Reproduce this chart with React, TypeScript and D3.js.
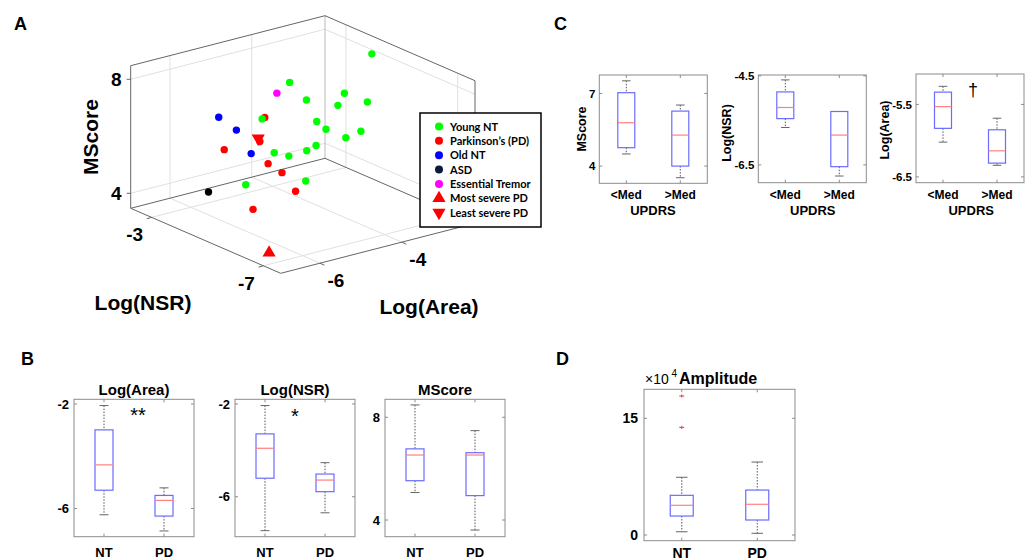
import React from 'react';
import * as d3 from 'd3';

const FONT = '"Liberation Sans", Arial, sans-serif';

// panel A: [Log(Area), Log(NSR), MScore] per subject
const youngNT = [
  [-2.26, -4.0, 7.9], [-4.27, -4.0, 7.64], [-2.59, -3.5, 6.43], [-4.2, -4.5, 7.21],
  [-3.09, -4.0, 6.4], [-2.71, -4.5, 6.59], [-4.6, -3.5, 6.27], [-4.29, -5.0, 6.7],
  [-3.38, -4.0, 5.67], [-3.21, -5.0, 5.96], [-3.92, -5.5, 6.21], [-5.33, -5.0, 5.99],
  [-4.63, -4.5, 5.4], [-3.51, -3.5, 4.75], [-2.94, -3.0, 4.51], [-4.66, -3.0, 3.77],
  [-4.9, -5.5, 5.05],
];
const parkinsons = [
  [-5.56, -5.0, 7.31], [-6.21, -4.5, 6.21], [-5.82, -5.5, 6.0], [-5.14, -5.0, 5.22],
  [-5.49, -6.0, 5.12], [-6.53, -6.0, 4.87], [-5.68, -5.0, 6.51],
];
const oldNT = [[-5.32, -3.0, 6.38], [-5.23, -3.5, 6.11], [-5.21, -4.0, 5.49]];
const asd = [[-5.57, -3.0, 3.85]];
const essentialTremor = [[-4.24, -3.5, 7.04]];
const mostSevere = [[-6.82, -7.0, 3.88]];
const leastSevere = [[-5.72, -5.0, 6.64]];

const areaTicks3d = [-6, -4];
const nsrTicks3d = [-3, -7];
const mscoreTicks3d = [4, 8];

// box stats: [lower whisker, Q1, median, Q3, upper whisker]
const groupsB = ['NT', 'PD'];
const areaNT = [-6.24, -5.3, -4.33, -2.99, -2.06];
const areaPD = [-6.86, -6.29, -5.69, -5.5, -5.21];
const nsrNT = [-7.46, -5.2, -3.91, -3.29, -2.07];
const nsrPD = [-6.69, -5.78, -5.28, -5.02, -4.53];
const msNT = [5.07, 5.53, 6.53, 6.77, 8.48];
const msPD = [3.61, 4.95, 6.53, 6.62, 7.48];

const groupsC = ['<Med', '>Med'];
const msLow = [4.5, 4.76, 5.79, 7.03, 7.52];
const msHigh = [3.52, 4.0, 5.28, 6.27, 6.52];
const nsrLow = [-5.66, -5.46, -5.21, -4.86, -4.59];
const nsrHigh = [-6.75, -6.54, -5.83, -5.3, -5.3];
const areaLow = [-6.02, -5.83, -5.53, -5.33, -5.25];
const areaHigh = [-6.34, -6.31, -6.14, -5.85, -5.69];

const ampNT = [0.42, 2.44, 3.82, 5.1, 7.42];
const ampPD = [0.22, 1.93, 3.95, 5.78, 9.38];
const ampNTOutliers = [17.87, 13.84];

// 3D projection
const aDom: [number, number] = [-6.96, -2.21];
const nDom: [number, number] = [-2.25, -7.62];
const zDom: [number, number] = [3.474, 8.477];
const aS = d3.scaleLinear().domain(aDom).range([0, 1]);
const nS = d3.scaleLinear().domain(nDom).range([0, 1]);
const zS = d3.scaleLinear().domain(zDom).range([0, 142.6]);
const ORIGIN = [130.7, 208.3];
const AV = [194.3, -50];
const NV = [150, 65];
const proj = (a: number, n: number, z: number): [number, number] => {
  const ta = aS(a), tn = nS(n);
  return [ORIGIN[0] + ta * AV[0] + tn * NV[0], ORIGIN[1] + ta * AV[1] + tn * NV[1] - zS(z)];
};

const seg = (p: [number, number], q: [number, number], key: string, stroke: string, w = 1) => (
  <line key={key} x1={p[0]} y1={p[1]} x2={q[0]} y2={q[1]} stroke={stroke} strokeWidth={w} />
);

function Panel3D() {
  const [a0, a1] = aDom, [n0, n1] = nDom, [z0, z1] = zDom;
  const grid = '#e0e0e0';
  const edge = '#666';
  const lines: any[] = [];
  mscoreTicks3d.forEach((z, i) => {
    lines.push(seg(proj(a0, n0, z), proj(a1, n0, z), 'gzl' + i, grid));
    lines.push(seg(proj(a1, n0, z), proj(a1, n1, z), 'gzr' + i, grid));
  });
  areaTicks3d.forEach((a, i) => {
    lines.push(seg(proj(a, n0, z0), proj(a, n0, z1), 'gaw' + i, grid));
    lines.push(seg(proj(a, n0, z0), proj(a, n1, z0), 'gaf' + i, grid));
  });
  nsrTicks3d.forEach((n, i) => {
    lines.push(seg(proj(a1, n, z0), proj(a1, n, z1), 'gnw' + i, grid));
    lines.push(seg(proj(a0, n, z0), proj(a1, n, z0), 'gnf' + i, grid));
  });
  const edges = [
    [proj(a0, n0, z0), proj(a0, n0, z1)],
    [proj(a0, n0, z1), proj(a1, n0, z1)],
    [proj(a1, n0, z1), proj(a1, n1, z1)],
    [proj(a1, n1, z1), proj(a1, n1, z0)],
    [proj(a0, n0, z0), proj(a1, n0, z0)],
    [proj(a1, n0, z0), proj(a1, n1, z0)],
    [proj(a0, n0, z0), proj(a0, n1, z0)],
    [proj(a0, n1, z0), proj(a1, n1, z0)],
  ];
  const backV = seg(proj(a1, n0, z0), proj(a1, n0, z1), 'bv', '#bbb');
  const tri = d3.symbol().type(d3.symbolTriangle).size(75)() as string;
  const dot = (pts: number[][], color: string, k: string) =>
    pts.map((p, i) => {
      const [x, y] = proj(p[0], p[1], p[2]);
      return <circle key={k + i} cx={x} cy={y} r={3.7} fill={color} />;
    });
  const legendItems = [
    { label: 'Young NT', color: '#00ff00', shape: 'c' },
    { label: 'Parkinson’s (PD)', color: '#ff0000', shape: 'c' },
    { label: 'Old NT', color: '#0000ff', shape: 'c' },
    { label: 'ASD', color: '#0b1a3d', shape: 'c' },
    { label: 'Essential Tremor', color: '#ff00ff', shape: 'c' },
    { label: 'Most severe PD', color: '#ff0000', shape: 'u' },
    { label: 'Least severe PD', color: '#ff0000', shape: 'd' },
  ];
  return (
    <g>
      {lines}
      {backV}
      {edges.map((e, i) => seg(e[0] as [number, number], e[1] as [number, number], 'e' + i, edge))}
      {mscoreTicks3d.map((z) => {
        const [x, y] = proj(a0, n0, z);
        return (
          <g key={'mt' + z}>
            <line x1={x - 4} x2={x} y1={y} y2={y} stroke={edge} />
            <text x={x - 9} y={y + 7} textAnchor="end" fontSize={19} fontWeight="bold" fontFamily={FONT}>{z}</text>
          </g>
        );
      })}
      {nsrTicks3d.map((n) => {
        const [x, y] = proj(a0, n, z0);
        return (
          <g key={'nt' + n}>
            <line x1={x} y1={y} x2={x - 4.8} y2={y + 1.3} stroke={edge} />
            <text x={x - 17} y={y + 24} textAnchor="middle" fontSize={19} fontWeight="bold" fontFamily={FONT}>{n}</text>
          </g>
        );
      })}
      {areaTicks3d.map((a) => {
        const [x, y] = proj(a, n1, z0);
        return (
          <g key={'at' + a}>
            <line x1={x} y1={y} x2={x + 4.5} y2={y + 2} stroke={edge} />
            <text x={x + 16} y={y + 24} textAnchor="middle" fontSize={19} fontWeight="bold" fontFamily={FONT}>{a}</text>
          </g>
        );
      })}
      {dot(parkinsons, '#ff0000', 'pd')}
      {dot(oldNT, '#0000ff', 'on')}
      {dot(asd, '#000000', 'as')}
      {dot(essentialTremor, '#ff00ff', 'et')}
      {dot(youngNT, '#00ff00', 'yn')}
      {mostSevere.map((p, i) => {
        const [x, y] = proj(p[0], p[1], p[2]);
        return <path key={'ms' + i} d={tri} transform={`translate(${x},${y})`} fill="#ff0000" />;
      })}
      {leastSevere.map((p, i) => {
        const [x, y] = proj(p[0], p[1], p[2]);
        return <path key={'ls' + i} d={tri} transform={`translate(${x},${y}) rotate(180)`} fill="#ff0000" />;
      })}
      <text transform="translate(98,137) rotate(-90)" textAnchor="middle" fontSize={21} fontWeight="bold" fontFamily={FONT}>MScore</text>
      <text x={143} y={310} textAnchor="middle" fontSize={21} fontWeight="bold" fontFamily={FONT}>Log(NSR)</text>
      <text x={429} y={314} textAnchor="middle" fontSize={21} fontWeight="bold" fontFamily={FONT}>Log(Area)</text>
      <rect x={420} y={113} width={121} height={114} fill="#fff" stroke="#000" strokeWidth={1.5} />
      {legendItems.map((it, i) => {
        const cy = 126.5 + i * 14.35;
        return (
          <g key={'lg' + i}>
            {it.shape === 'c' ? (
              <circle cx={439} cy={cy} r={4} fill={it.color} />
            ) : (
              <path d={tri} transform={`translate(439,${cy}) ${it.shape === 'd' ? 'rotate(180)' : ''}`} fill={it.color} />
            )}
            <text x={450} y={cy + 4} fontSize={11} fontWeight="bold" fontFamily="Lato, sans-serif">{it.label}</text>
          </g>
        );
      })}
    </g>
  );
}

interface BoxProps {
  x0: number; y0: number; w: number; h: number;
  domain: [number, number]; ticks: number[];
  groups: string[]; stats: number[][]; outliers?: number[][];
  boxW: number; tickFs: number; labelFs: number; tickGap: number; labelDy: number;
  title?: string; titleY?: number;
}

function BoxPanel(p: BoxProps) {
  const y = d3.scaleLinear().domain(p.domain).range([p.y0 + p.h, p.y0]);
  const x = d3.scaleLinear().domain([0.5, 2.5]).range([p.x0, p.x0 + p.w]);
  const axis = '#8c8c8c';
  return (
    <g>
      <rect x={p.x0} y={p.y0} width={p.w} height={p.h} fill="none" stroke={axis} />
      {p.ticks.map((t) => (
        <g key={'t' + t}>
          <line x1={p.x0} x2={p.x0 + 3} y1={y(t)} y2={y(t)} stroke={axis} />
          <line x1={p.x0 + p.w - 3} x2={p.x0 + p.w} y1={y(t)} y2={y(t)} stroke={axis} />
          <text x={p.x0 - p.tickGap} y={y(t)} dy="0.36em" textAnchor="end" fontSize={p.tickFs} fontWeight="bold" fontFamily={FONT}>{t}</text>
        </g>
      ))}
      {p.groups.map((g, i) => {
        const cx = x(i + 1);
        const [lo, q1, md, q3, hi] = p.stats[i];
        const bw = p.boxW;
        return (
          <g key={g}>
            <line x1={cx} x2={cx} y1={p.y0} y2={p.y0 + 3} stroke={axis} />
            <line x1={cx} x2={cx} y1={p.y0 + p.h - 3} y2={p.y0 + p.h} stroke={axis} />
            <line x1={cx} x2={cx} y1={y(hi)} y2={y(q3)} stroke="#555" strokeDasharray="1.5,1.5" />
            <line x1={cx} x2={cx} y1={y(q1)} y2={y(lo)} stroke="#555" strokeDasharray="1.5,1.5" />
            <line x1={cx - bw / 4} x2={cx + bw / 4} y1={y(hi)} y2={y(hi)} stroke="#666" />
            <line x1={cx - bw / 4} x2={cx + bw / 4} y1={y(lo)} y2={y(lo)} stroke="#666" />
            <rect x={cx - bw / 2} y={y(q3)} width={bw} height={y(q1) - y(q3)} fill="#fff" stroke="#6b6bff" strokeWidth={1.2} />
            <line x1={cx - bw / 2} x2={cx + bw / 2} y1={y(md)} y2={y(md)} stroke="#ff8080" strokeWidth={1.2} />
            {(p.outliers?.[i] ?? []).map((o, j) => (
              <g key={'o' + j} stroke="#ff3030" strokeWidth={1}>
                <line x1={cx - 2.5} x2={cx + 2.5} y1={y(o)} y2={y(o)} />
                <line x1={cx} x2={cx} y1={y(o) - 1.5} y2={y(o) + 1.5} />
              </g>
            ))}
            <text x={cx} y={p.y0 + p.h + p.labelDy} textAnchor="middle" fontSize={p.labelFs} fontWeight="bold" fontFamily={FONT}>{g}</text>
          </g>
        );
      })}
      {p.title && (
        <text x={p.x0 + p.w / 2} y={p.titleY} textAnchor="middle" fontSize={15} fontWeight="bold" fontFamily={FONT}>{p.title}</text>
      )}
    </g>
  );
}

export default function App() {
  const letter = (t: string, x: number, y: number) => (
    <text x={x} y={y} fontSize={18} fontWeight="bold" fontFamily={FONT}>{t}</text>
  );
  const cCommon = { w: 108, boxW: 17, tickFs: 11.5, labelFs: 12, tickGap: 4, labelDy: 16, groups: groupsC };
  const bCommon = { y0: 399.3, w: 120, h: 137.4, boxW: 18, tickFs: 13, labelFs: 13, tickGap: 5, labelDy: 20, groups: groupsB, titleY: 395 };
  return (
    <svg width={1030} height={560} style={{ position: 'absolute', left: 0, top: 0, background: '#fff' }}>
      <rect width={1030} height={560} fill="#fff" />
      {letter('A', 14, 30)}
      {letter('B', 21, 365)}
      {letter('C', 554, 30)}
      {letter('D', 556, 365)}
      <Panel3D />

      {/* Panel C */}
      <BoxPanel {...cCommon} x0={599.3} y0={75} h={108.3} domain={[3.29, 7.76]} ticks={[4, 7]} stats={[msLow, msHigh]} />
      <BoxPanel {...cCommon} x0={758.3} y0={75} h={107.7} domain={[-6.9, -4.48]} ticks={[-6.5, -4.5]} stats={[nsrLow, nsrHigh]} />
      <BoxPanel {...cCommon} x0={916} y0={74} h={108.7} domain={[-6.58, -5.08]} ticks={[-6.5, -5.5]} stats={[areaLow, areaHigh]} />
      <text transform="translate(586,129) rotate(-90)" textAnchor="middle" fontSize={12.5} fontWeight="bold" fontFamily={FONT}>MScore</text>
      <text transform="translate(731,133) rotate(-90)" textAnchor="middle" fontSize={12.5} fontWeight="bold" fontFamily={FONT}>Log(NSR)</text>
      <text transform="translate(889,130) rotate(-90)" textAnchor="middle" fontSize={12.5} fontWeight="bold" fontFamily={FONT}>Log(Area)</text>
      {[653, 812.8, 971.2].map((cx) => (
        <text key={cx} x={cx} y={215} textAnchor="middle" fontSize={13} fontWeight="bold" fontFamily={FONT}>UPDRS</text>
      ))}
      <text x={973} y={96} textAnchor="middle" fontSize={18} fontFamily={FONT}>†</text>

      {/* Panel B */}
      <BoxPanel {...bCommon} x0={74} domain={[-7.08, -1.82]} ticks={[-6, -2]} stats={[areaNT, areaPD]} title="Log(Area)" />
      <BoxPanel {...bCommon} x0={235} domain={[-7.72, -1.8]} ticks={[-6, -2]} stats={[nsrNT, nsrPD]} title="Log(NSR)" />
      <BoxPanel {...bCommon} x0={385} domain={[3.35, 8.7]} ticks={[4, 8]} stats={[msNT, msPD]} title="MScore" />
      <text x={138} y={422} textAnchor="middle" fontSize={20} fontFamily={FONT}>**</text>
      <text x={295} y={423} textAnchor="middle" fontSize={20} fontFamily={FONT}>*</text>

      {/* Panel D */}
      <BoxPanel x0={644} y0={389.3} w={151} h={151.4} domain={[-0.73, 18.73]} ticks={[0, 15]} groups={groupsB}
        stats={[ampNT, ampPD]} outliers={[ampNTOutliers, []]} boxW={23} tickFs={14} labelFs={14} tickGap={6} labelDy={17.5} />
      <text x={645} y={384} fontSize={14} fontFamily={FONT}>×10</text>
      <text x={671.5} y={377} fontSize={10} fontFamily={FONT}>4</text>
      <text x={679} y={384} fontSize={16} fontWeight="bold" fontFamily={FONT}>Amplitude</text>
    </svg>
  );
}
